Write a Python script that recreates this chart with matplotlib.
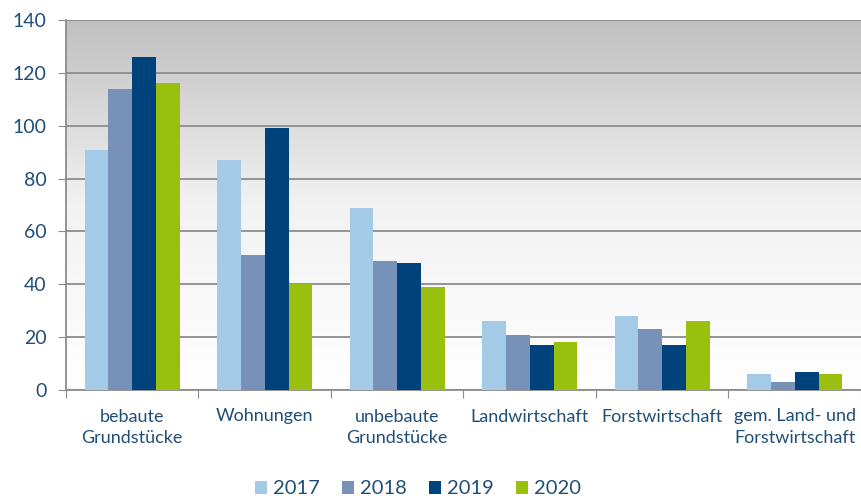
import matplotlib.pyplot as plt
import numpy as np
from matplotlib.colors import LinearSegmentedColormap

categories = ["bebaute\nGrundstücke", "Wohnungen", "unbebaute\nGrundstücke",
              "Landwirtschaft", "Forstwirtschaft", "gem. Land- und\nForstwirtschaft"]
years = ["2017", "2018", "2019", "2020"]
v2017 = [91, 87, 69, 26, 28, 6]
v2018 = [114, 51, 49, 21, 23, 3]
v2019 = [126, 99, 48, 17, 17, 7]
v2020 = [116, 40, 39, 18, 26, 6]
colors = ["#a3cbe8", "#7891b9", "#00427c", "#99bf0f"]
text_color = "#1f4e79"

plt.rcParams["font.family"] = ["Lato", "DejaVu Sans"]

fig = plt.figure(figsize=(8.62, 4.99), dpi=100)
ax = fig.add_axes([66 / 862, 1 - 390 / 499, 795 / 862, 370 / 499])

# gradient background
grad = np.linspace(0, 1, 256).reshape(-1, 1)
cmap = LinearSegmentedColormap.from_list("bg", ["#ffffff", "#f2f2f2", "#c0c0c0"])
ax.imshow(grad, extent=[-0.5, 5.5, 0, 140], origin="lower", aspect="auto",
          cmap=cmap, zorder=0)

x = np.arange(len(categories))
width = 0.18
series = [v2017, v2018, v2019, v2020]
for i, (vals, col, yr) in enumerate(zip(series, colors, years)):
    ax.bar(x + (i - 1.5) * width, vals, width, color=col, label=yr, zorder=3)

ax.set_xlim(-0.5, 5.5)
ax.set_ylim(0, 140)
ax.set_yticks(range(0, 141, 20))
ax.yaxis.grid(True, color="#8c8c8c", linewidth=1.3, zorder=1)
ax.set_axisbelow(True)

ax.set_xticks(np.arange(-0.5, 5.6, 1))
ax.set_xticklabels([])
ax.tick_params(axis="x", length=6, color="#8c8c8c")
ax.tick_params(axis="y", length=6, color="#8c8c8c", labelsize=14,
               labelcolor=text_color, pad=8)
for i, c in enumerate(categories):
    ax.text(i, -7, c, ha="center", va="top", fontsize=13,
            color=text_color, linespacing=1.4)

for s in ["top", "right"]:
    ax.spines[s].set_visible(False)
for s in ["left", "bottom"]:
    ax.spines[s].set_color("#8c8c8c")
    ax.spines[s].set_linewidth(1.3)

fig.legend(loc="center", bbox_to_anchor=(418 / 862, 1 - 489 / 499), ncol=4,
           frameon=False, fontsize=14.5, handlelength=0.6, handleheight=0.6,
           handletextpad=0.3, columnspacing=1.1, labelcolor=text_color)

fig.savefig("out.png", dpi=100)
